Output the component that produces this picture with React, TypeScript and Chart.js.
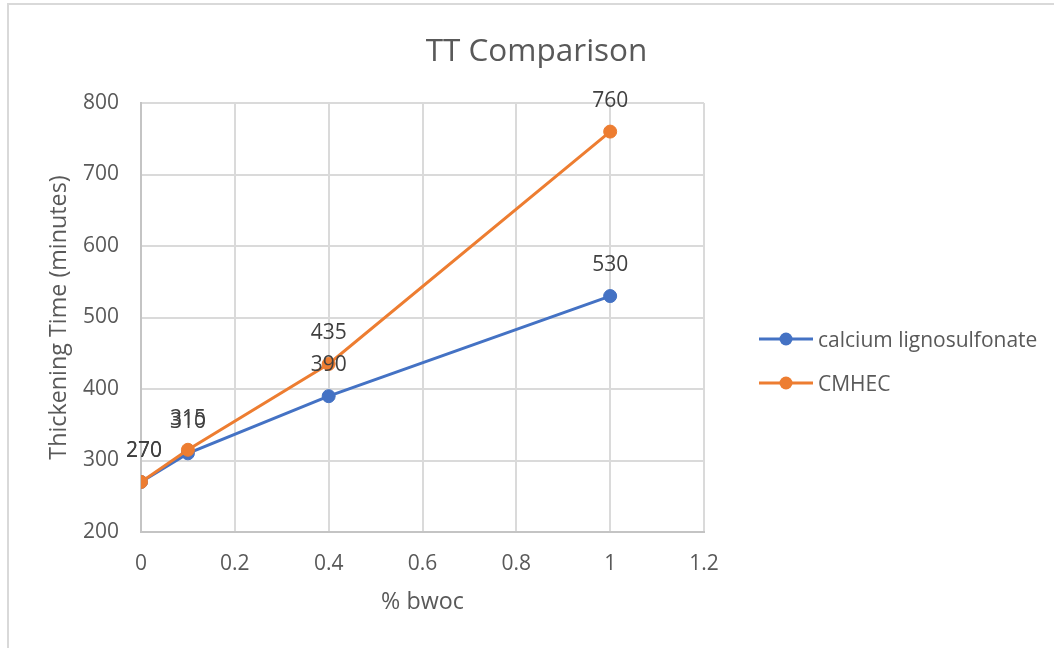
import React, { useEffect, useRef } from "react";
import { Chart, registerables } from "chart.js";

Chart.register(...registerables);

const titleText = "TT Comparison";
const xTitle = "% bwoc";
const yTitle = "Thickening Time (minutes)";
const seriesNames = ["calcium lignosulfonate", "CMHEC"];
const xValues = [0, 0.1, 0.4, 1];
const calciumValues = [270, 310, 390, 530];
const cmhecValues = [270, 315, 435, 760];
const xTicks = [0, 0.2, 0.4, 0.6, 0.8, 1, 1.2];
const yTicks = [200, 300, 400, 500, 600, 700, 800];

const BLUE = "#4472C4";
const ORANGE = "#ED7D31";
const TEXT = "#595959";
const FONT = "'Open Sans', 'Noto Sans', sans-serif";

const decorPlugin = {
  id: "decor",
  beforeDraw(chart: any) {
    const ctx = chart.ctx;
    ctx.save();
    ctx.fillStyle = "#ffffff";
    ctx.fillRect(0, 0, chart.width, chart.height);
    ctx.strokeStyle = "#D9D9D9";
    ctx.lineWidth = 2;
    ctx.strokeRect(8, 4, chart.width + 20, chart.height + 20);
    ctx.restore();
  },
  afterDatasetsDraw(chart: any) {
    const ctx = chart.ctx;
    ctx.save();
    // data labels
    ctx.font = `21px ${FONT}`;
    ctx.fillStyle = "#404040";
    ctx.textAlign = "center";
    ctx.textBaseline = "alphabetic";
    chart.data.datasets.forEach((ds: any, i: number) => {
      const meta = chart.getDatasetMeta(i);
      meta.data.forEach((pt: any, j: number) => {
        ctx.fillText(String(ds.data[j].y), pt.x + (j === 0 ? 3 : 0), pt.y - 25);
      });
    });
    // title
    ctx.fillStyle = TEXT;
    ctx.font = `31.5px ${FONT}`;
    ctx.textAlign = "center";
    ctx.fillText(titleText, 536.5, 61);
    // legend
    const colors = [BLUE, ORANGE];
    const rows = [339, 383];
    ctx.font = `21px ${FONT}`;
    ctx.textAlign = "left";
    seriesNames.forEach((name, i) => {
      const y = rows[i];
      ctx.strokeStyle = colors[i];
      ctx.lineWidth = 3;
      ctx.beginPath();
      ctx.moveTo(759, y);
      ctx.lineTo(813, y);
      ctx.stroke();
      ctx.fillStyle = colors[i];
      ctx.beginPath();
      ctx.arc(786, y, 6.5, 0, Math.PI * 2);
      ctx.fill();
      ctx.fillStyle = TEXT;
      ctx.fillText(name, 818, y + 8);
    });
    ctx.restore();
  },
};

export default function App() {
  const ref = useRef<HTMLCanvasElement | null>(null);
  useEffect(() => {
    if (!ref.current) return;
    const toPts = (vals: number[]) => vals.map((v, i) => ({ x: xValues[i], y: v }));
    const chart = new Chart(ref.current, {
      type: "line",
      data: {
        datasets: [
          {
            label: seriesNames[0],
            data: toPts(calciumValues),
            borderColor: BLUE,
            backgroundColor: BLUE,
            pointBackgroundColor: BLUE,
            pointBorderColor: BLUE,
            borderWidth: 3,
            pointRadius: 6.5,
            pointBorderWidth: 1,
            order: 1,
          },
          {
            label: seriesNames[1],
            data: toPts(cmhecValues),
            borderColor: ORANGE,
            backgroundColor: ORANGE,
            pointBackgroundColor: ORANGE,
            pointBorderColor: ORANGE,
            borderWidth: 3,
            pointRadius: 6.5,
            pointBorderWidth: 1,
            order: 0,
          },
        ],
      },
      options: {
        animation: false,
        responsive: false,
        layout: { padding: { top: 103, left: 0, right: 350, bottom: 0 } },
        plugins: {
          legend: { display: false },
          title: { display: false },
          tooltip: { enabled: false },
        },
        scales: {
          x: {
            type: "linear",
            min: 0,
            max: 1.2,
            afterFit: (s: any) => {
              s.height = 116;
            },
            afterBuildTicks: (s: any) => {
              s.ticks = xTicks.map((v) => ({ value: v }));
            },
            ticks: {
              color: TEXT,
              font: { family: FONT, size: 21 },
              padding: 19,
              maxRotation: 0,
              callback: (v: any) => String(v),
            },
            grid: { color: "#DADADA", lineWidth: 2, drawTicks: false },
            border: { color: "#C4C4C4", width: 2 },
            title: {
              display: true,
              text: xTitle,
              color: TEXT,
              font: { family: FONT, size: 23.3 },
              padding: { top: 0, bottom: 32 },
            },
          },
          y: {
            type: "linear",
            min: 200,
            max: 800,
            afterFit: (s: any) => {
              s.width = 141;
            },
            afterBuildTicks: (s: any) => {
              s.ticks = yTicks.map((v) => ({ value: v }));
            },
            ticks: {
              color: TEXT,
              font: { family: FONT, size: 21 },
              padding: 22,
            },
            grid: { color: "#DADADA", lineWidth: 2, drawTicks: false },
            border: { color: "#C4C4C4", width: 2 },
            title: {
              display: true,
              text: yTitle,
              color: TEXT,
              font: { family: FONT, size: 23.3 },
              padding: { top: 45, bottom: 0 },
            },
          },
        },
      },
      plugins: [decorPlugin],
    });
    return () => chart.destroy();
  }, []);
  return (
    <div style={{ position: "absolute", left: 0, top: 0, width: 1054, height: 648, background: "#fff" }}>
      <canvas ref={ref} width={1054} height={648} style={{ width: 1054, height: 648, display: "block" }} />
    </div>
  );
}
